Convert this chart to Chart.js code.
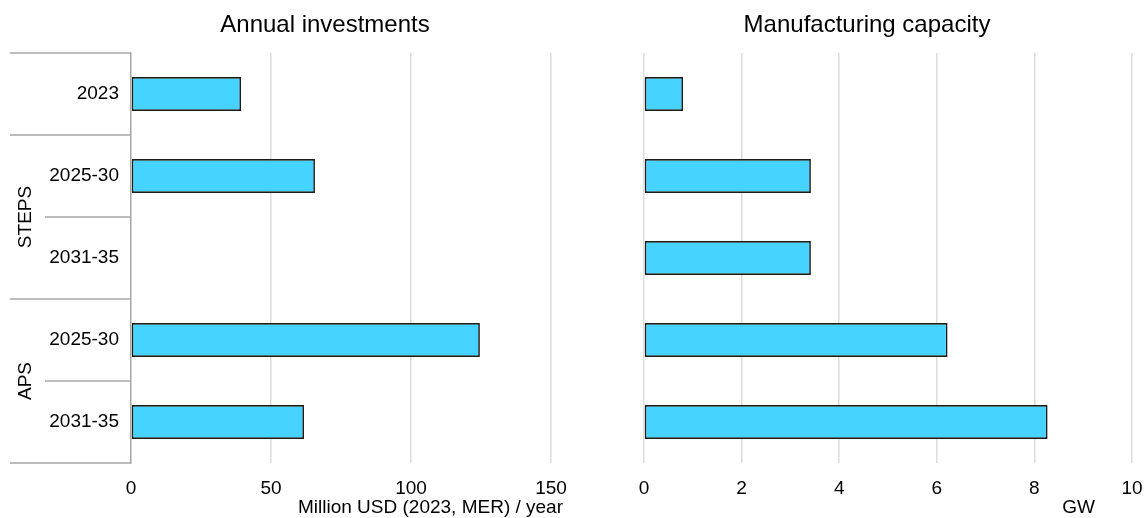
<!DOCTYPE html>
<html>
<head>
<meta charset="utf-8">
<script src="https://cdn.jsdelivr.net/npm/chart.js@4/dist/chart.umd.min.js"></script>
<style>
  html, body { margin: 0; padding: 0; background: #fff; }
  #wrap { position: relative; width: 1146px; height: 518px; overflow: hidden; }
  .box { position: absolute; top: 0; height: 518px; }
</style>
</head>
<body>
<div id="wrap">
  <div class="box" style="left:0;width:650px"><canvas id="chart-invest"></canvas></div>
  <div class="box" style="left:588px;width:558px"><canvas id="chart-capacity"></canvas></div>
</div>
<script>
// Data
const periods = ['2023', '2025-30', '2031-35', '2025-30', '2031-35'];
const groupNames = ['', 'STEPS', 'APS'];
const groupSizes = [1, 2, 2];
const investments = [39.3, 65.7, null, 124.6, 61.8];   // Million USD (2023, MER) / year
const capacity = [0.8, 3.42, 3.42, 6.22, 8.27];        // GW
const investTicks = [0, 50, 100, 150];
const capacityTicks = [0, 2, 4, 6, 8, 10];

const FONT = 'Arial, "Liberation Sans", sans-serif';
const BAR_FILL = '#47D3FF';
const BAR_EDGE = '#1c1c1c';
const GRID = '#dcdcdc';
const AXIS = '#a6a6a6';

// heading centred on the canvas + unit label under the x axis
const labels = {
  id: 'labels',
  afterDraw(chart, args, opts) {
    const { ctx, chartArea } = chart;
    ctx.save();
    ctx.fillStyle = '#000';
    ctx.textBaseline = 'middle';
    if (opts.heading) {
      ctx.font = '24px ' + FONT;
      ctx.textAlign = 'center';
      ctx.fillText(opts.heading, chart.width / 2, 25);
    }
    if (opts.unit) {
      ctx.font = '19px ' + FONT;
      ctx.textAlign = 'right';
      ctx.fillText(opts.unit, chartArea.right + opts.unitDx, 508);
    }
    ctx.restore();
  }
};

// group labels + separator lines in the category area
const groupAxis = {
  id: 'groupAxis',
  afterDraw(chart, args, opts) {
    if (!opts.names) return;
    const { ctx, chartArea } = chart;
    const n = chart.data.labels.length;
    const band = (chartArea.bottom - chartArea.top) / n;
    const edge = i => chartArea.top + i * band;
    ctx.save();
    ctx.strokeStyle = AXIS;
    ctx.lineWidth = 1.5;
    const line = (yy, x0) => {
      ctx.beginPath();
      ctx.moveTo(x0, yy);
      ctx.lineTo(chartArea.left, yy);
      ctx.stroke();
    };
    let start = 0;
    line(edge(0), 10);
    opts.sizes.forEach((size, g) => {
      for (let k = 1; k < size; k++) line(edge(start + k), 45);
      line(edge(start + size), 10);
      if (opts.names[g]) {
        const cy = (edge(start) + edge(start + size)) / 2;
        ctx.save();
        ctx.translate(26, cy);
        ctx.rotate(-Math.PI / 2);
        ctx.font = '19px ' + FONT;
        ctx.fillStyle = '#000';
        ctx.textAlign = 'center';
        ctx.textBaseline = 'middle';
        ctx.fillText(opts.names[g], 0, 0);
        ctx.restore();
      }
      start += size;
    });
    ctx.restore();
  }
};

Chart.register(labels, groupAxis);

function barDataset(data) {
  return {
    data,
    backgroundColor: BAR_FILL,
    borderColor: BAR_EDGE,
    borderWidth: 1.7,
    borderSkipped: false,
    barPercentage: 0.415,
    categoryPercentage: 1
  };
}

function xScale(ticks, hideZero) {
  return {
    type: 'linear',
    min: ticks[0],
    max: ticks[ticks.length - 1],
    afterBuildTicks: s => { s.ticks = ticks.map(v => ({ value: v })); },
    afterFit: s => { s.height = 55; s.paddingLeft = 0; s.paddingRight = 0; },
    grid: {
      color: c => (hideZero && c.tick && c.tick.value === 0) ? 'rgba(0,0,0,0)' : GRID,
      lineWidth: 1.5,
      drawTicks: false
    },
    border: { display: false },
    ticks: { color: '#000', font: { family: FONT, size: 19 }, padding: 14, maxRotation: 0 }
  };
}

// Annual investments
new Chart(document.getElementById('chart-invest'), {
  type: 'bar',
  data: { labels: periods, datasets: [barDataset(investments)] },
  options: {
    indexAxis: 'y',
    responsive: true,
    maintainAspectRatio: false,
    animation: false,
    layout: { padding: { top: 53, right: 99 } },
    scales: {
      x: xScale(investTicks, true),
      y: {
        afterFit: s => { s.width = 131; },
        grid: { display: false, drawTicks: false },
        border: { color: AXIS, width: 1.5 },
        ticks: { color: '#000', font: { family: FONT, size: 19 }, padding: 12 }
      }
    },
    plugins: {
      legend: { display: false },
      tooltip: { enabled: false },
      labels: { heading: 'Annual investments', unit: 'Million USD (2023, MER) / year', unitDx: 12 },
      groupAxis: { names: groupNames, sizes: groupSizes }
    }
  }
});

// Manufacturing capacity
new Chart(document.getElementById('chart-capacity'), {
  type: 'bar',
  data: { labels: periods, datasets: [barDataset(capacity)] },
  options: {
    indexAxis: 'y',
    responsive: true,
    maintainAspectRatio: false,
    animation: false,
    layout: { padding: { top: 53, left: 56, right: 14 } },
    scales: {
      x: xScale(capacityTicks, false),
      y: { display: false }
    },
    plugins: {
      legend: { display: false },
      tooltip: { enabled: false },
      labels: { heading: 'Manufacturing capacity', unit: 'GW', unitDx: -37 }
    }
  }
});
</script>
</body>
</html>
